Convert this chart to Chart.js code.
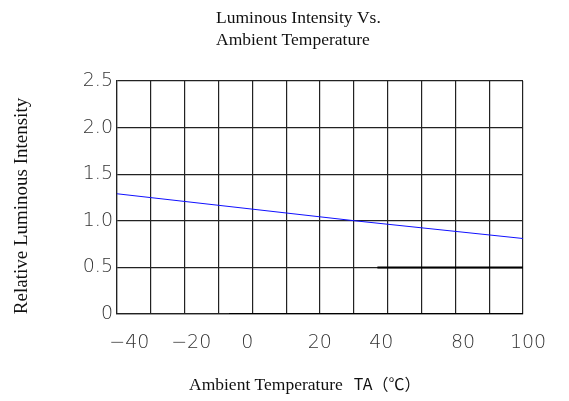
<!DOCTYPE html>
<html>
<head>
<meta charset="utf-8">
<script src="https://cdn.jsdelivr.net/npm/chart.js@4.4.0/dist/chart.umd.min.js"></script>
<style>
  html, body { margin: 0; padding: 0; background: #fff; }
  #wrap { width: 569px; height: 401px; }
</style>
</head>
<body>
<div id="wrap"><canvas id="ledChart"></canvas></div>
<script>
// values
const tempRange = [-45, 100];
const intensityTemps = [-45, 40, 100];
const intensityValues = [1.29, 1.0, 0.81];
const halfLineTemps = [48, 100];
const halfLineValues = [0.5, 0.5];
const zeroLineTemps = [-5, 100];
const zeroLineValues = [0, 0];

const xTickLabels = ['\u221240', '\u221220', '0', '20', '40', '80', '100'];
// where the printed labels actually sit along the temperature axis
const xTickSpots = [-40.6, -18.5, 1.5, 27.4, 49.4, 78.6, 101.8];
const yTickLabels = ['0', '0.5', '1.0', '1.5', '2.0', '2.5'];

function toPoints(xs, ys) {
    return xs.map((x, i) => ({ x: x, y: ys[i] }));
}

const titlePlugin = {
    id: 'titles',
    afterDraw(chart) {
        const ctx = chart.ctx;
        ctx.save();
        ctx.fillStyle = '#111';
        ctx.textBaseline = 'middle';
        ctx.font = '17.5px "Liberation Serif"';
        ctx.textAlign = 'left';
        ctx.fillText('Luminous Intensity Vs.', 216, 18);
        ctx.fillText('Ambient Temperature', 216, 40);

        ctx.fillText('Ambient Temperature', 189, 385);
        const w = ctx.measureText('Ambient Temperature').width;
        ctx.font = '16px "Noto Sans CJK SC"';
        ctx.fillText('TA\uff08\u2103\uff09', 189 + w + 11, 384);

        ctx.translate(22, 206);
        ctx.rotate(-Math.PI / 2);
        ctx.textAlign = 'center';
        ctx.font = '19px "Liberation Serif"';
        ctx.fillText('Relative Luminous Intensity', 0, 0);
        ctx.restore();
    }
};

const tickFont = { family: '"DejaVu Sans"', size: 19, weight: '300' };

new Chart(document.getElementById('ledChart'), {
    type: 'line',
    data: {
        datasets: [
            {
                data: toPoints(intensityTemps, intensityValues),
                borderColor: '#1010ff',
                borderWidth: 1,
                pointRadius: 0
            },
            {
                data: toPoints(halfLineTemps, halfLineValues),
                borderColor: '#000',
                borderWidth: 2,
                pointRadius: 0
            },
            {
                data: toPoints(zeroLineTemps, zeroLineValues),
                borderColor: '#000',
                borderWidth: 2,
                pointRadius: 0
            }
        ]
    },
    options: {
        responsive: true,
        maintainAspectRatio: false,
        animation: false,
        layout: { padding: { top: 81, right: 46, left: 0, bottom: 0 } },
        plugins: {
            legend: { display: false },
            tooltip: { enabled: false }
        },
        scales: {
            x: {
                type: 'linear',
                position: 'bottom',
                min: tempRange[0],
                max: tempRange[1],
                ticks: { count: 13, display: false },
                grid: { color: '#222', lineWidth: 1.2, drawTicks: false },
                border: { color: '#222', width: 1.2 },
                afterFit: (scale) => { scale.height = 0; }
            },
            xl: {
                type: 'linear',
                position: 'bottom',
                min: tempRange[0],
                max: tempRange[1],
                grid: { display: false, drawTicks: false },
                border: { display: false },
                afterBuildTicks: (scale) => {
                    scale.ticks = xTickSpots.map(v => ({ value: v }));
                },
                ticks: {
                    autoSkip: false,
                    maxRotation: 0,
                    padding: 18,
                    color: '#333',
                    font: tickFont,
                    callback: (v, i) => xTickLabels[i]
                },
                afterFit: (scale) => { scale.height = 87; }
            },
            y: {
                min: 0,
                max: 2.5,
                ticks: {
                    stepSize: 0.5,
                    padding: 4,
                    color: '#333',
                    font: tickFont,
                    callback: (v, i) => yTickLabels[i]
                },
                grid: { color: '#222', lineWidth: 1.2, drawTicks: false },
                border: { color: '#222', width: 1.2 },
                afterFit: (scale) => { scale.width = 117; }
            }
        }
    },
    plugins: [titlePlugin]
});
</script>
</body>
</html>
